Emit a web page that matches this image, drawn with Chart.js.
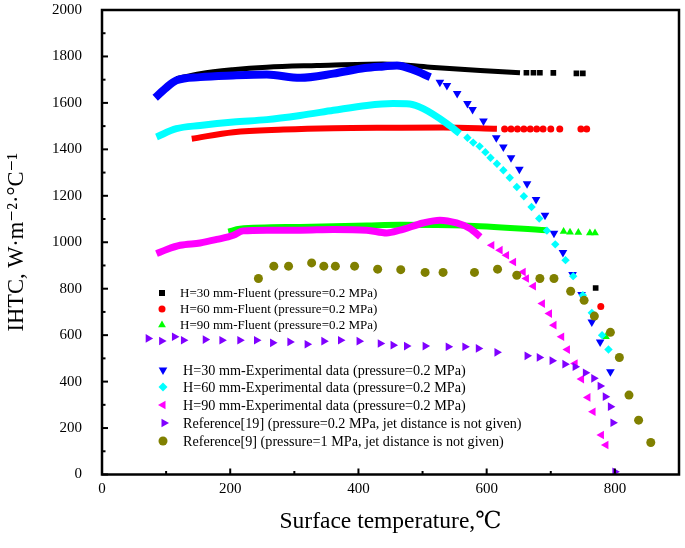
<!DOCTYPE html>
<html>
<head>
<meta charset="utf-8">
<title>IHTC vs surface temperature</title>
<style>
  html, body { margin: 0; padding: 0; background: #fff; }
</style>
</head>
<body>
<canvas id="c" width="685" height="548"></canvas>
<script src="https://cdn.jsdelivr.net/npm/chart.js@4.4.0/dist/chart.umd.min.js"></script>
<script>
// values: temperature (℃) and IHTC (W·m-2·℃-1)
// dense parts of the curves are drawn as thick bands, sparse tails as markers

// H=30 mm Fluent
var fl30BandT = [116, 153, 204, 257, 335, 438, 512, 590, 652];
var fl30BandV = [1704, 1726, 1743, 1754, 1761, 1768, 1754, 1740, 1730];
var fl30T = [662, 673, 683, 704, 740, 750, 770];
var fl30V = [1730, 1730, 1730, 1729, 1727, 1727, 803];

// H=60 mm Fluent
var fl60BandT = [140, 205, 283, 361, 454, 532, 616];
var fl60BandV = [1446, 1474, 1485, 1491, 1493, 1494, 1489];
var fl60T = [628, 638, 648, 658, 668, 678, 688, 700, 714, 747, 756, 778];
var fl60V = [1488, 1488, 1488, 1488, 1488, 1488, 1488, 1488, 1488, 1488, 1488, 723];

// H=90 mm Fluent
var fl90BandT = [197, 215, 309, 413, 465, 564, 694];
var fl90BandV = [1046, 1058, 1066, 1072, 1075, 1072, 1052];
var fl90T = [720, 730, 743, 761, 769, 786];
var fl90V = [1046, 1043, 1042, 1040, 1040, 593];

// H=30 mm experimental
var ex30BandT = [83, 100, 116, 153, 204, 257, 309, 361, 410, 439, 460, 485, 512];
var ex30BandV = [1622, 1665, 1697, 1711, 1718, 1722, 1708, 1726, 1750, 1757, 1761, 1743, 1711];
var ex30T = [527, 538, 554, 570, 578, 595, 615, 626, 638, 651, 663, 677, 691, 705, 719, 734, 748, 764, 777, 793];
var ex30V = [1689, 1675, 1640, 1597, 1572, 1522, 1450, 1410, 1364, 1314, 1252, 1184, 1116, 1039, 956, 861, 775, 657, 570, 442];

// H=60 mm experimental
var ex60BandT = [85, 116, 153, 205, 257, 309, 361, 413, 454, 480, 501, 538, 558];
var ex60BandV = [1453, 1489, 1503, 1518, 1528, 1546, 1568, 1589, 1597, 1595, 1575, 1511, 1468];
var ex60T = [570, 579, 589, 598, 606, 616, 626, 636, 647, 658, 670, 682, 694, 707, 723, 735, 750, 764, 780, 790];
var ex60V = [1450, 1429, 1413, 1388, 1364, 1338, 1310, 1278, 1238, 1198, 1152, 1102, 1050, 991, 923, 854, 772, 696, 600, 538];

// H=90 mm experimental
var ex90BandT = [85, 101, 122, 153, 179, 205, 220, 257, 309, 361, 413, 444, 465, 501, 527, 553, 574, 590];
var ex90BandV = [951, 969, 987, 997, 1012, 1030, 1049, 1052, 1052, 1055, 1052, 1040, 1052, 1083, 1095, 1083, 1059, 1023];
var ex90T = [608, 621, 631, 642, 657, 662, 673, 687, 698, 705, 717, 726, 738, 748, 758, 766, 779, 786];
var ex90V = [987, 966, 944, 915, 872, 844, 811, 736, 693, 643, 593, 538, 478, 411, 332, 270, 170, 127];

// Reference[19]
var ref19T = [72, 93, 113, 127, 161, 187, 215, 241, 266, 293, 320, 346, 372, 401, 434, 454, 475, 504, 540, 566, 587, 616, 663, 682, 702, 722, 738, 754, 767, 777, 785, 793, 797, 800];
var ref19V = [586, 575, 593, 578, 581, 578, 578, 578, 567, 571, 561, 574, 578, 574, 564, 557, 553, 553, 550, 550, 543, 526, 511, 504, 490, 475, 464, 438, 414, 381, 335, 292, 223, 12];

// Reference[9]
var ref9T = [244, 268, 291, 327, 346, 364, 394, 430, 466, 504, 532, 581, 617, 647, 683, 705, 731, 752, 768, 793, 807, 822, 837, 856];
var ref9V = [844, 897, 897, 911, 897, 897, 897, 884, 882, 870, 870, 870, 884, 858, 844, 844, 789, 750, 682, 612, 504, 342, 234, 138];

var legendLabels = [
  'H=30 mm-Fluent (pressure=0.2 MPa)',
  'H=60 mm-Fluent (pressure=0.2 MPa)',
  'H=90 mm-Fluent (pressure=0.2 MPa)',
  'H=30 mm-Experimental data (pressure=0.2 MPa)',
  'H=60 mm-Experimental data (pressure=0.2 MPa)',
  'H=90 mm-Experimental data (pressure=0.2 MPa)',
  'Reference[19] (pressure=0.2 MPa, jet distance is not given)',
  'Reference[9] (pressure=1 MPa, jet distance is not given)'
];

var SERIF = "'Liberation Serif', 'DejaVu Serif', serif";

function pts(t, v) {
  return t.map(function (x, i) { return { x: x, y: v[i] }; });
}

function band(t, v, color, width, order) {
  return {
    data: pts(t, v), showLine: true, borderColor: color, borderWidth: width,
    pointRadius: 0, cubicInterpolationMode: 'monotone', order: order
  };
}

function marks(t, v, color, style, rot, r, order) {
  return {
    data: pts(t, v), showLine: false, pointStyle: style, rotation: rot,
    pointRadius: r, backgroundColor: color, borderColor: color, borderWidth: 0, order: order
  };
}

// legend drawn by hand so it can keep the gap between the two groups
var legendSpec = [
  { color: '#000000', style: 'rect', rot: 0, r: 4, mx: 162, y: 293, tx: 180, fs: 13 },
  { color: '#ff0000', style: 'circle', rot: 0, r: 3.5, mx: 162, y: 309, tx: 180, fs: 13 },
  { color: '#00ff00', style: 'triangle', rot: 0, r: 4.5, mx: 162, y: 325, tx: 180, fs: 13 },
  { color: '#0000ff', style: 'triangle', rot: 180, r: 5, mx: 163, y: 370, tx: 183, fs: 14.2 },
  { color: '#00ffff', style: 'rectRot', rot: 0, r: 4.5, mx: 163, y: 387, tx: 183, fs: 14.2 },
  { color: '#ff00ff', style: 'triangle', rot: 270, r: 5, mx: 163, y: 405, tx: 183, fs: 14.2 },
  { color: '#8000ff', style: 'triangle', rot: 90, r: 5, mx: 164, y: 423, tx: 183, fs: 14.2 },
  { color: '#808000', style: 'circle', rot: 0, r: 4.5, mx: 163, y: 441, tx: 183, fs: 14.2 }
];

function marker(ctx, s) {
  ctx.save();
  ctx.fillStyle = s.color;
  ctx.translate(s.mx, s.y);
  ctx.rotate(s.rot * Math.PI / 180);
  ctx.beginPath();
  if (s.style === 'rect') {
    ctx.rect(-s.r * 0.75, -s.r * 0.75, s.r * 1.5, s.r * 1.5);
  } else if (s.style === 'circle') {
    ctx.arc(0, 0, s.r, 0, Math.PI * 2);
  } else if (s.style === 'rectRot') {
    ctx.moveTo(0, -s.r); ctx.lineTo(s.r, 0); ctx.lineTo(0, s.r); ctx.lineTo(-s.r, 0);
  } else {
    ctx.moveTo(0, -s.r);
    ctx.lineTo(s.r * 0.866, s.r * 0.5);
    ctx.lineTo(-s.r * 0.866, s.r * 0.5);
  }
  ctx.closePath();
  ctx.fill();
  ctx.restore();
}

var framePlugin = {
  id: 'frame',
  afterDraw: function (chart) {
    var ctx = chart.ctx, a = chart.chartArea;
    var xs = chart.scales.x, ys = chart.scales.y;
    ctx.save();
    ctx.strokeStyle = '#000';
    ctx.lineWidth = 2;
    var v, p, len;
    for (v = 0; v <= 900; v += 100) {
      p = xs.getPixelForValue(v);
      len = v % 200 === 0 ? 6 : 3.5;
      ctx.beginPath(); ctx.moveTo(p, a.bottom); ctx.lineTo(p, a.bottom - len); ctx.stroke();
    }
    for (v = 0; v <= 2000; v += 100) {
      p = ys.getPixelForValue(v);
      len = v % 200 === 0 ? 6 : 3.5;
      ctx.beginPath(); ctx.moveTo(a.left, p); ctx.lineTo(a.left + len, p); ctx.stroke();
    }
    ctx.lineWidth = 2.5;
    ctx.strokeRect(a.left, a.top, a.right - a.left, a.bottom - a.top);

    ctx.fillStyle = '#000';
    ctx.textBaseline = 'middle';
    legendSpec.forEach(function (s, i) {
      marker(ctx, s);
      ctx.font = s.fs + 'px ' + SERIF;
      ctx.fillText(legendLabels[i], s.tx, s.y + 1);
    });
    ctx.restore();
  }
};

new Chart(document.getElementById('c'), {
  type: 'scatter',
  data: {
    datasets: [
      band(fl30BandT, fl30BandV, '#000000', 5, 9),
      marks(fl30T, fl30V, '#000000', 'rect', 0, 4, 9),
      band(fl60BandT, fl60BandV, '#ff0000', 6, 8),
      marks(fl60T, fl60V, '#ff0000', 'circle', 0, 3.5, 8),
      band(fl90BandT, fl90BandV, '#00ff00', 6, 7),
      marks(fl90T, fl90V, '#00ff00', 'triangle', 0, 4.5, 7),
      band(ex30BandT, ex30BandV, '#0000ff', 8, 6),
      marks(ex30T, ex30V, '#0000ff', 'triangle', 180, 5, 6),
      band(ex60BandT, ex60BandV, '#00ffff', 7, 5),
      marks(ex60T, ex60V, '#00ffff', 'rectRot', 0, 4.2, 5),
      band(ex90BandT, ex90BandV, '#ff00ff', 7, 4),
      marks(ex90T, ex90V, '#ff00ff', 'triangle', 270, 5, 4),
      marks(ref19T, ref19V, '#8000ff', 'triangle', 90, 5, 3),
      marks(ref9T, ref9V, '#808000', 'circle', 0, 4.5, 2)
    ]
  },
  options: {
    responsive: false,
    animation: false,
    devicePixelRatio: 1,
    layout: { padding: { left: 0, right: 6, top: 10, bottom: 0 } },
    plugins: { legend: { display: false }, tooltip: { enabled: false } },
    scales: {
      x: {
        type: 'linear', min: 0, max: 900,
        grid: { display: false, drawTicks: false },
        border: { display: false },
        ticks: { stepSize: 200, padding: 6, color: '#000', font: { family: SERIF, size: 15 },
                 callback: function (v) { return v % 200 === 0 ? String(v) : ''; } },
        title: { display: true, text: 'Surface temperature,℃', color: '#000', padding: { top: 0, bottom: 12 },
                 font: { family: SERIF, size: 23.5 } },
        afterBuildTicks: function (s) { s.ticks = s.ticks.filter(function (t) { return t.value <= 800; }); },
        afterFit: function (s) { s.height = 73.5; s.paddingLeft = 0; s.paddingRight = 0; }
      },
      y: {
        type: 'linear', min: 0, max: 2000,
        grid: { display: false, drawTicks: false },
        border: { display: false },
        ticks: { stepSize: 200, padding: 20, color: '#000', font: { family: SERIF, size: 15 },
                 callback: function (v) { return String(v); } },
        title: { display: true, text: 'IHTC, W·m⁻²·°C⁻¹', color: '#000', padding: { top: 4, bottom: 0 },
                 font: { family: SERIF, size: 22.5 } },
        afterFit: function (s) { s.width = 102; s.paddingTop = 0; s.paddingBottom = 0; }
      }
    }
  },
  plugins: [framePlugin]
});
</script>
</body>
</html>
